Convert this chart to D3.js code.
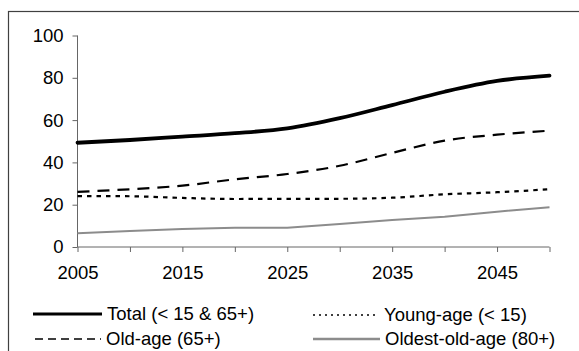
<!DOCTYPE html>
<html>
<head>
<meta charset="utf-8">
<script src="https://cdn.jsdelivr.net/npm/d3@7"></script>
<style>
  html, body { margin: 0; padding: 0; background: #fff; }
  svg { display: block; font-family: Arial, "Liberation Sans", sans-serif; }
</style>
</head>
<body>
<svg id="chart" width="579" height="351"></svg>
<script>
const years = [2005, 2010, 2015, 2020, 2025, 2030, 2035, 2040, 2045, 2050];
const xTickLabels = [2005, 2015, 2025, 2035, 2045];
const yTicks = [0, 20, 40, 60, 80, 100];
const totalValues = [49.3, 50.6, 52.2, 53.8, 56.1, 60.9, 67.1, 73.4, 78.5, 81.0];
const youngValues = [24.1, 24.0, 23.2, 22.7, 22.8, 22.8, 23.3, 24.9, 25.9, 27.3];
const oldValues = [26.1, 27.3, 29.0, 32.0, 34.5, 38.4, 44.5, 50.3, 53.1, 55.0];
const oldestValues = [6.5, 7.6, 8.5, 9.1, 9.1, 10.9, 12.8, 14.3, 16.7, 18.8];

const seriesNames = ["Total (< 15 & 65+)", "Young-age (< 15)", "Old-age (65+)", "Oldest-old-age (80+)"];

const svg = d3.select("#chart");

// outer frame (cropped on right & bottom)
svg.append("rect")
  .attr("x", 8.5).attr("y", 11.5)
  .attr("width", 620).attr("height", 400)
  .attr("fill", "none").attr("stroke", "#404040").attr("stroke-width", 1.2);

const x = d3.scaleLinear().domain([2005, 2050]).range([77.5, 549.5]);
const y = d3.scaleLinear().domain([0, 100]).range([247, 35.5]);

// y axis
const yAxis = svg.append("g").attr("transform", "translate(77.5,0)")
  .call(d3.axisLeft(y).tickValues(yTicks).tickSize(5).tickPadding(9).tickFormat(d3.format("d")));
yAxis.select(".domain").attr("stroke", "#666").attr("d", `M0,${y(100)}V${y(0)}`);
yAxis.selectAll(".tick line").attr("stroke", "#666");
yAxis.selectAll(".tick text").attr("font-size", 18.5).attr("fill", "#000")
  .attr("font-family", "Arial, 'Liberation Sans', sans-serif");

// x axis
const xAxis = svg.append("g").attr("transform", `translate(0,${y(0)})`)
  .call(d3.axisBottom(x).tickValues(years).tickSize(5).tickPadding(14)
    .tickFormat(d => xTickLabels.includes(d) ? String(d) : ""));
xAxis.select(".domain").attr("stroke", "#666").attr("d", `M${x(2005)},0H${x(2050)}`);
xAxis.selectAll(".tick line").attr("stroke", "#666");
xAxis.selectAll(".tick text").attr("font-size", 18.5).attr("fill", "#000")
  .attr("font-family", "Arial, 'Liberation Sans', sans-serif");

const line = (vals, curve) => d3.line()
  .x((d, i) => x(years[i]))
  .y(d => y(d))
  .curve(curve)(vals);

const plot = svg.append("g");
plot.append("path").attr("d", line(oldestValues, d3.curveLinear))
  .attr("fill", "none").attr("stroke", "#8c8c8c").attr("stroke-width", 2);
plot.append("path").attr("d", line(youngValues, d3.curveMonotoneX))
  .attr("fill", "none").attr("stroke", "#000").attr("stroke-width", 2.2)
  .attr("stroke-dasharray", "4.5,5");
plot.append("path").attr("d", line(oldValues, d3.curveMonotoneX))
  .attr("fill", "none").attr("stroke", "#000").attr("stroke-width", 2.2)
  .attr("stroke-dasharray", "12,8");
plot.append("path").attr("d", line(totalValues, d3.curveMonotoneX))
  .attr("fill", "none").attr("stroke", "#000").attr("stroke-width", 3.8)
  .attr("stroke-linecap", "round");

// legend
const legendItems = [
  { name: seriesNames[0], x1: 33, x2: 102, ty: 314, stroke: "#000", w: 3.2, dash: null },
  { name: seriesNames[1], x1: 313, x2: 379, ty: 315, stroke: "#000", w: 1.3, dash: "2,4" },
  { name: seriesNames[2], x1: 35, x2: 101, ty: 339, stroke: "#000", w: 1.3, dash: "8,5" },
  { name: seriesNames[3], x1: 313, x2: 380, ty: 339, stroke: "#8c8c8c", w: 2.5, dash: null }
];
const lg = svg.append("g");
legendItems.forEach(it => {
  const l = lg.append("line").attr("x1", it.x1).attr("x2", it.x2)
    .attr("y1", it.ty).attr("y2", it.ty)
    .attr("stroke", it.stroke).attr("stroke-width", it.w);
  if (it.dash) l.attr("stroke-dasharray", it.dash);
  lg.append("text").attr("x", it.x2 + 5).attr("y", it.ty)
    .attr("dy", "0.35em").attr("font-size", 18.5).attr("fill", "#000")
    .text(it.name);
});
</script>
</body>
</html>
